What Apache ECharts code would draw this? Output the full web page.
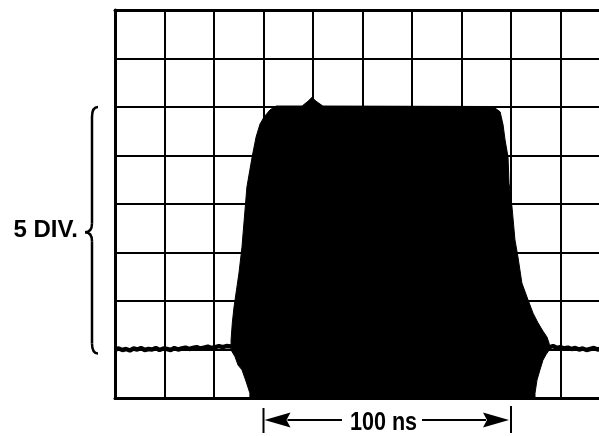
<!DOCTYPE html>
<html>
<head>
<meta charset="utf-8">
<script src="https://cdn.jsdelivr.net/npm/echarts@6/dist/echarts.min.js"></script>
<style>
html,body{margin:0;padding:0;background:#fff;}
#chart{width:599px;height:436px;}
</style>
</head>
<body>
<div id="chart"></div>
<script>
// Time axis in ns (20 ns / div), vertical axis in divisions
const xDivisionNs = 20;
const xMaxNs = 200;
const yMaxDiv = 8;

// Outline of the filled pulse envelope (ns, div)
const pulseX = [54.5, 54.5, 52.9, 51.3, 49.7, 48.5, 46.9, 46.9, 47.4, 48.1, 50.1, 51.3, 52.1, 53.3, 55.4, 57.0, 58.6, 60.2, 62.6, 65.1,
  75.6, 78.0, 79.6, 81.2, 84.0, 152.7, 155.6, 156.8, 157.6, 158.8, 159.2, 160.4, 161.6, 162.8, 163.6, 164.4, 166.9, 168.9, 170.9,
  172.9, 174.5, 175.4, 175.4, 174.1, 172.9, 171.7, 170.5, 169.7, 169.7];
const pulseY = [0, 0.10, 0.35, 0.58, 0.68, 0.85, 0.99, 1.20, 1.55, 1.88, 2.58, 3.11, 3.61, 4.35, 4.97, 5.38, 5.65, 5.79, 5.94, 6.02,
  6.02, 6.12, 6.20, 6.12, 6.02, 6.01, 5.90, 5.63, 5.32, 4.97, 4.43, 3.94, 3.26, 2.91, 2.64, 2.37, 2.02, 1.75, 1.55,
  1.38, 1.26, 1.13, 0.99, 0.89, 0.78, 0.58, 0.37, 0.10, 0];

// Baseline noise trace before and after the pulse (ns, div)
const traceLeftX = [0, 1.5, 3, 4.5, 6, 7.5, 9, 10.5, 12, 13.5, 15, 16.5, 18, 19.5, 21, 22.5, 24, 25.5, 27, 28.5, 30, 31.5, 33, 34.5, 36, 37.5, 39, 40.5, 42, 43.5, 45, 47];
const traceLeftY = [1.00, 1.02, 0.99, 1.01, 0.98, 1.02, 1.00, 1.03, 0.99, 1.01, 1.00, 1.03, 0.99, 1.02, 1.01, 0.99, 1.03, 1.00, 1.02, 1.04, 1.01, 1.03, 1.05, 1.02, 1.04, 1.06, 1.03, 1.05, 1.07, 1.05, 1.07, 1.06];
const traceRightX = [174, 175.5, 177, 178.5, 180, 181.5, 183, 184.5, 186, 187.5, 189, 190.5, 192, 193.5, 195, 196.5, 198];
const traceRightY = [1.08, 1.05, 1.07, 1.03, 1.05, 1.02, 1.04, 1.01, 1.03, 1.00, 1.02, 0.99, 1.01, 1.03, 1.00, 1.02, 0.99];

// Annotations
const spanStartNs = 60, spanEndNs = 160, spanLabel = '100 ns';
const ampLowDiv = 1, ampHighDiv = 6, ampLabel = '5 DIV.';

const chart = echarts.init(document.getElementById('chart'), null, {renderer: 'canvas'});

const zip = (xs, ys) => xs.map((x, i) => [x, ys[i]]);

chart.setOption({
  animation: false,
  backgroundColor: '#fff',
  grid: {left: 115, width: 495, top: 10, height: 388, outerBoundsMode: 'none', containLabel: false},
  xAxis: [
    {
      type: 'value', min: 0, max: xMaxNs, interval: xDivisionNs,
      axisLine: {show: true, lineStyle: {color: '#000', width: 3}},
      axisTick: {show: false}, axisLabel: {show: false},
      splitLine: {show: true, lineStyle: {color: '#000', width: 2}}
    },
    {
      type: 'value', min: 0, max: xMaxNs, position: 'top',
      axisLine: {show: true, lineStyle: {color: '#000', width: 3}},
      axisTick: {show: false}, axisLabel: {show: false}, splitLine: {show: false}
    }
  ],
  yAxis: {
    type: 'value', min: 0, max: yMaxDiv, interval: 1,
    axisLine: {show: true, lineStyle: {color: '#000', width: 3}},
    axisTick: {show: false}, axisLabel: {show: false},
    splitLine: {show: true, lineStyle: {color: '#000', width: 2}}
  },
  series: [
    {
      type: 'custom',
      silent: true,
      clip: false,
      data: [[0, 0]],
      renderItem: function (params, api) {
        const pts = pulseX.map((x, i) => api.coord([x, pulseY[i]]));
        return {type: 'polygon', shape: {points: pts}, style: {fill: '#000', stroke: '#000', lineWidth: 1}};
      }
    },
    {
      type: 'line', data: zip(traceLeftX, traceLeftY), showSymbol: false, silent: true,
      lineStyle: {color: '#000', width: 4.5}
    },
    {
      type: 'line', data: zip(traceRightX, traceRightY), showSymbol: false, silent: true,
      lineStyle: {color: '#000', width: 4.5}
    }
  ]
});

const p = (x, y) => chart.convertToPixel({xAxisIndex: 0, yAxisIndex: 0}, [x, y]);
const xs = p(spanStartNs, 0)[0];
const xe = p(spanEndNs, 0)[0];
const yTop = p(0, ampHighDiv)[1];
const yBot = p(0, ampLowDiv)[1] + 4;
const yMid = (yTop + yBot) / 2 + 2;
const ay = 420;
const bx = 92;
const braceStyle = {fill: null, stroke: '#000', lineWidth: 2.5};

chart.setOption({
  graphic: [
    {type: 'bezierCurve', silent: true, shape: {x1: bx + 6, y1: yTop, cpx1: bx, cpy1: yTop, x2: bx, y2: yTop + 10}, style: braceStyle},
    {type: 'line', silent: true, shape: {x1: bx, y1: yTop + 10, x2: bx, y2: yMid - 9}, style: braceStyle},
    {type: 'bezierCurve', silent: true, shape: {x1: bx, y1: yMid - 9, cpx1: bx, cpy1: yMid, x2: bx - 7, y2: yMid}, style: braceStyle},
    {type: 'bezierCurve', silent: true, shape: {x1: bx - 7, y1: yMid, cpx1: bx, cpy1: yMid, x2: bx, y2: yMid + 9}, style: braceStyle},
    {type: 'line', silent: true, shape: {x1: bx, y1: yMid + 9, x2: bx, y2: yBot - 10}, style: braceStyle},
    {type: 'bezierCurve', silent: true, shape: {x1: bx, y1: yBot - 10, cpx1: bx, cpy1: yBot, x2: bx + 6, y2: yBot}, style: braceStyle},
    {
      type: 'text', silent: true, x: 78, y: yMid - 2,
      style: {text: ampLabel, fill: '#000', fontSize: 24, fontWeight: 'bold', fontFamily: '"Liberation Sans", Arial, sans-serif', align: 'right', verticalAlign: 'middle'}
    },
    // left tick + arrow
    {type: 'line', silent: true, shape: {x1: xs, y1: 408, x2: xs, y2: 433}, style: {stroke: '#000', lineWidth: 2}},
    {type: 'polygon', silent: true, shape: {points: [[xs + 1, ay], [xs + 27, ay - 7.5], [xs + 23, ay], [xs + 27, ay + 7.5]]}, style: {fill: '#000'}},
    {type: 'line', silent: true, shape: {x1: xs + 24, y1: ay, x2: 342, y2: ay}, style: {stroke: '#000', lineWidth: 2}},
    // right tick + arrow
    {type: 'line', silent: true, shape: {x1: xe, y1: 406, x2: xe, y2: 433}, style: {stroke: '#000', lineWidth: 2}},
    {type: 'polygon', silent: true, shape: {points: [[xe - 2, ay], [xe - 28, ay - 7.5], [xe - 24, ay], [xe - 28, ay + 7.5]]}, style: {fill: '#000'}},
    {type: 'line', silent: true, shape: {x1: 422, y1: ay, x2: xe - 25, y2: ay}, style: {stroke: '#000', lineWidth: 2}},
    {
      type: 'text', silent: true, x: 383.5, y: 423, scaleX: 0.83,
      style: {text: spanLabel, fill: '#000', fontSize: 26, fontWeight: 'bold', fontFamily: '"Liberation Sans", Arial, sans-serif', align: 'center', verticalAlign: 'middle'}
    }
  ]
});
</script>
</body>
</html>
